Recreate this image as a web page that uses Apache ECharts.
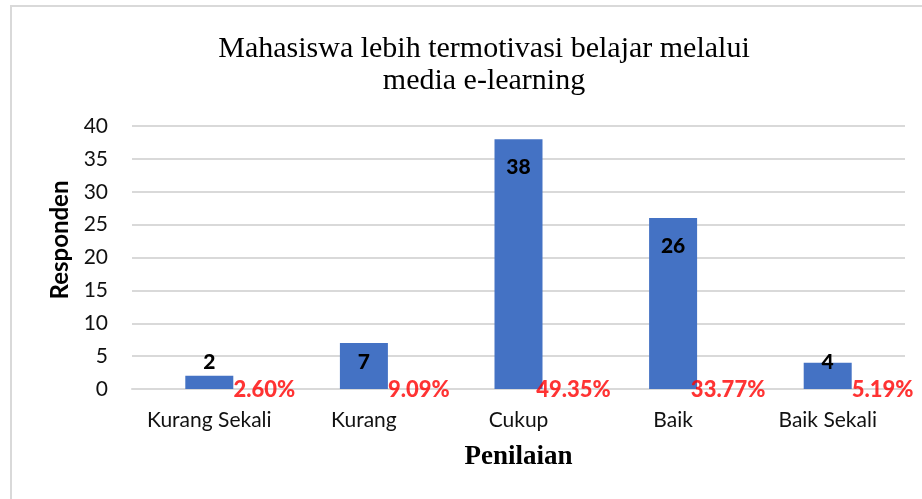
<!DOCTYPE html>
<html lang="id">
<head>
    <meta charset="UTF-8">
    <title>Mahasiswa lebih termotivasi belajar melalui media e-learning</title>
    <script src="https://cdn.jsdelivr.net/npm/echarts@6/dist/echarts.min.js"></script>
    <style>
        html, body { margin: 0; padding: 0; background: #fff; }
        #chart { width: 922px; height: 499px; }
    </style>
</head>
<body>
<div id="chart"></div>
<script>
    // data dari grafik
    var categories = ['Kurang Sekali', 'Kurang', 'Cukup', 'Baik', 'Baik Sekali'];
    var responden = [2, 7, 38, 26, 4];
    var persen = [2.60, 9.09, 49.35, 33.77, 5.19];
    var yTicks = [0, 5, 10, 15, 20, 25, 30, 35, 40];

    var gridTop = 126, gridBottom = 110;
    var plotH = 499 - gridTop - gridBottom;
    var yMax = yTicks[yTicks.length - 1];

    // posisi label jumlah: di dalam ujung batang, tapi tidak turun di bawah batas tertentu
    function countLabel(v) {
        var h = v * plotH / yMax;
        var rel = Math.min(28, h - 27);
        return {
            show: true,
            position: ['50%', rel],
            align: 'center',
            verticalAlign: 'middle'
        };
    }

    var chart = echarts.init(document.getElementById('chart'));
    chart.setOption({
        animation: false,
        backgroundColor: '#fff',
        graphic: [{
            type: 'rect',
            shape: { x: 11, y: 6, width: 940, height: 520 },
            style: { fill: 'none', stroke: '#d9d9d9', lineWidth: 2 }
        }],
        title: {
            text: 'Mahasiswa lebih termotivasi belajar melalui\nmedia e-learning',
            left: 479,
            top: 28,
            textAlign: 'center',
            textStyle: {
                fontFamily: 'Liberation Serif',
                fontWeight: 'normal',
                fontSize: 30,
                lineHeight: 32,
                color: '#000'
            }
        },
        grid: { left: 132, right: 17, top: gridTop, bottom: gridBottom },
        xAxis: {
            type: 'category',
            data: categories,
            name: 'Penilaian',
            nameLocation: 'middle',
            nameGap: 68,
            nameTextStyle: {
                fontFamily: 'Liberation Serif',
                fontWeight: 'bold',
                fontSize: 27,
                color: '#000',
                verticalAlign: 'middle'
            },
            axisLine: { lineStyle: { color: '#d9d9d9', width: 2 } },
            axisTick: { show: false },
            axisLabel: {
                interval: 0,
                margin: 21,
                fontFamily: 'Lato',
                fontSize: 21,
                color: '#111'
            }
        },
        yAxis: {
            type: 'value',
            min: yTicks[0],
            max: yMax,
            interval: 5,
            name: 'Responden',
            nameLocation: 'middle',
            nameGap: 69,
            nameRotate: 90,
            nameTextStyle: {
                fontFamily: 'Lato',
                fontWeight: 'bold',
                fontSize: 24,
                color: '#000',
                verticalAlign: 'middle',
                padding: [0, 0, 0, 35]
            },
            axisLine: { show: false },
            axisTick: { show: false },
            splitLine: { lineStyle: { color: '#d9d9d9', width: 2 } },
            axisLabel: {
                margin: 24,
                fontFamily: 'Lato',
                fontSize: 21,
                color: '#111'
            }
        },
        series: [{
            type: 'bar',
            barWidth: 48,
            itemStyle: { color: '#4472C4' },
            label: {
                fontFamily: 'Lato',
                fontWeight: 900,
                fontSize: 21,
                color: '#000'
            },
            data: responden.map(function (v) {
                return { value: v, label: countLabel(v) };
            })
        }, {
            type: 'scatter',
            symbolSize: 1,
            itemStyle: { color: 'transparent' },
            label: {
                show: true,
                position: 'inside',
                offset: [55, 1],
                fontFamily: 'Lato',
                fontWeight: 900,
                fontSize: 22,
                color: '#FF0000',
                formatter: function (p) { return persen[p.dataIndex].toFixed(2) + '%'; }
            },
            data: persen.map(function (p, i) { return [i, 0]; })
        }]
    });
</script>
</body>
</html>
